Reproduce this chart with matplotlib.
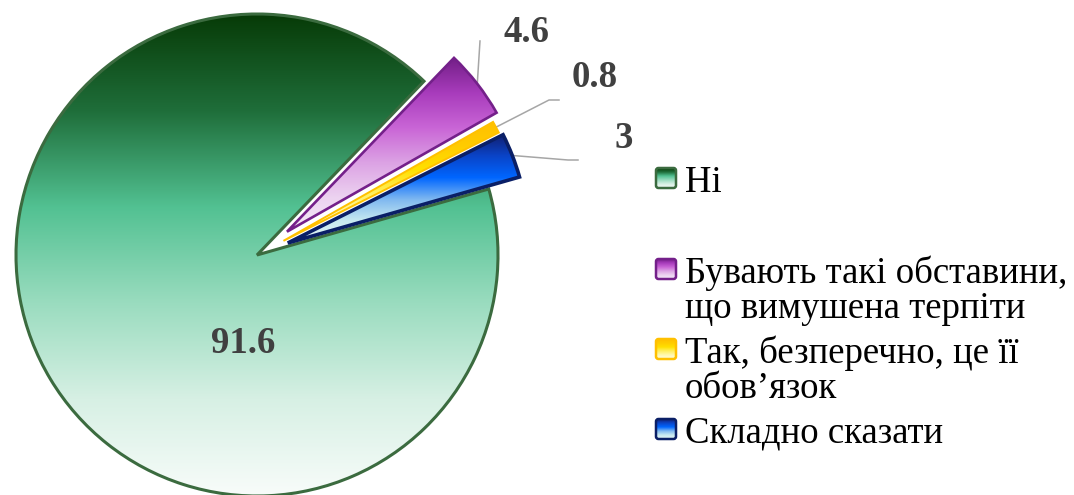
import numpy as np
import matplotlib
matplotlib.use("Agg")
import matplotlib.pyplot as plt
from matplotlib.colors import LinearSegmentedColormap
from matplotlib.patches import FancyBboxPatch

# data
categories = ["Ні",
              "Бувають такі обставини,\nщо вимушена терпіти",
              "Так, безперечно, це її\nобов’язок",
              "Складно сказати"]
values = [91.6, 4.6, 0.8, 3]
value_text = ["91.6", "4.6", "0.8", "3"]

# styles
edge_colors = ["#3b6b3f", "#74208a", "#ffc000", "#0a1f66"]
edge_widths = [2.2, 1.9, 1.4, 2.6]
grad_stops = [
    ["#073b07", "#1f6e3a", "#52c192", "#9adcbf", "#d7f0e4", "#f8fcfa"],
    ["#741f88", "#a83cbc", "#c965d6", "#dca2e4", "#ecd2f0", "#f6ecf8"],
    ["#ffc000", "#ffcc00", "#ffe000", "#fff060", "#fff8b0", "#ffffe0"],
    ["#121f70", "#0a44c8", "#0066ff", "#7fb8f0", "#c8eaf0", "#e6f6f6"],
]
cmaps = [LinearSegmentedColormap.from_list(f"g{i}", s) for i, s in enumerate(grad_stops)]
explode = [0, 38, 30, 33]

W, H = 1074, 495
serif = ["Liberation Serif", "DejaVu Serif"]


def Y(py):
    return H - py


def fill_gradient(ax, patch, cmap, z):
    bb = patch.get_path().get_extents(patch.get_patch_transform())
    grad = np.linspace(0, 1, 256).reshape(-1, 1)
    im = ax.imshow(grad, cmap=cmap, extent=(bb.x0, bb.x1, bb.y0, bb.y1),
                   origin="upper", aspect="auto", zorder=z, interpolation="bilinear")
    im.set_clip_path(patch)


fig = plt.figure(figsize=(W / 100, H / 100), dpi=100)
ax = fig.add_axes([0, 0, 1, 1])

wedges, _ = ax.pie(values, startangle=15.9, counterclock=False,
                   center=(257, Y(255)), radius=241, explode=explode,
                   wedgeprops=dict(linewidth=0))
for w, cm, ec, lw in zip(wedges, cmaps, edge_colors, edge_widths):
    fill_gradient(ax, w, cm, 2)
    w.set_facecolor("none")
    w.set_edgecolor(ec)
    w.set_linewidth(lw)
    w.set_joinstyle("miter")
    w.set_zorder(3)

# value labels
lab_pos = [(243, 353), (527, 42), (595, 87), (624, 148)]
for t, (px, py) in zip(value_text, lab_pos):
    ax.text(px, Y(py), t, ha="center", va="baseline", fontsize=26.5,
            fontweight="bold", color="#404040", family=serif, zorder=5)

# leader lines from the middle of each small slice's outer arc
knees = [None, [(480, 41)], [(549, 100), (559, 100)], [(568, 160), (578, 160)]]
for w, k in zip(wedges, knees):
    if k is None:
        continue
    m = np.deg2rad(0.5 * (w.theta1 + w.theta2))
    x0 = w.center[0] + w.r * np.cos(m)
    y0 = w.center[1] + w.r * np.sin(m)
    xs = [x0] + [p[0] for p in k]
    ys = [y0] + [Y(p[1]) for p in k]
    ax.plot(xs, ys, color="#a6a6a6", lw=1.1, zorder=1)

# legend
leg_rows = [[192], [283, 318], [363, 398], [443]]
for cat, rows, cm, ec in zip(categories, leg_rows, cmaps, edge_colors):
    lines = cat.split("\n")
    cy = rows[0] - 14
    box = FancyBboxPatch((656, Y(cy + 10)), 20, 20,
                         boxstyle="round,pad=0,rounding_size=2.5",
                         facecolor="none", edgecolor=ec, lw=1.8, zorder=4)
    ax.add_patch(box)
    fill_gradient(ax, box, cm, 3)
    for ln, by in zip(lines, rows):
        ax.text(685, Y(by), ln, ha="left", va="baseline", fontsize=26.5,
                color="black", family=serif)

ax.set_xlim(0, W)
ax.set_ylim(0, H)
ax.set_aspect("equal")
ax.axis("off")
fig.savefig("out.png", dpi=100)
